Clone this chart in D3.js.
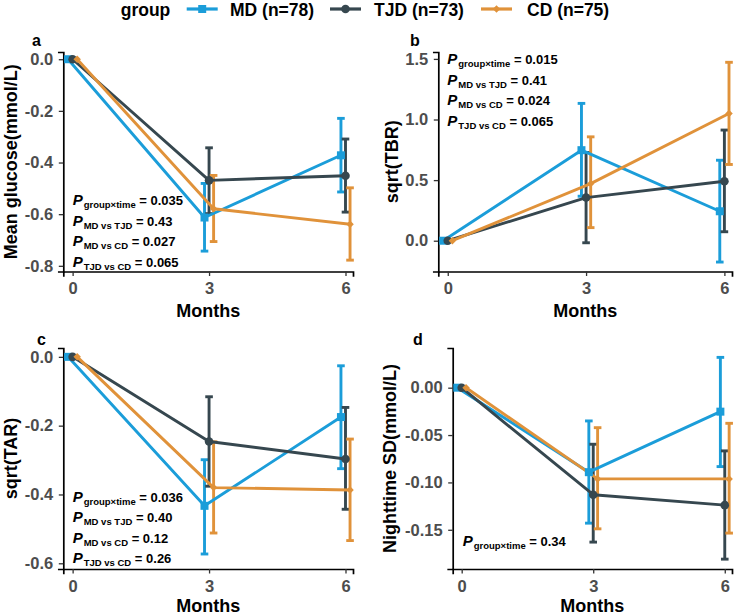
<!DOCTYPE html>
<html><head><meta charset="utf-8">
<script src="https://cdn.jsdelivr.net/npm/d3@7"></script>
<style>
body{margin:0;background:#fff}
text{font-family:"Liberation Sans",Arial,Helvetica,sans-serif;font-weight:bold}
</style>
</head><body>
<svg id="chart" width="735" height="616"></svg>
<script>
// ---------------- data ----------------
const months = [0, 3, 6];
const groups = ["MD (n=78)", "TJD (n=73)", "CD (n=75)"];
const groupColors = ["#1b9dd9", "#36474f", "#e0923a"];
const groupDodge = [-0.1, 0, 0.1];
const groupShapes = ["square", "circle", "diamond"];

// panel a: Mean glucose (mmol/L)
const glucoseMD = [0, -0.613, -0.372], glucoseMDlo = [0, -0.743, -0.514], glucoseMDhi = [0, -0.481, -0.229];
const glucoseTJD = [0, -0.469, -0.451], glucoseTJDlo = [0, -0.598, -0.592], glucoseTJDhi = [0, -0.343, -0.309];
const glucoseCD = [0, -0.579, -0.639], glucoseCDlo = [0, -0.706, -0.778], glucoseCDhi = [0, -0.450, -0.498];
const glucoseTicks = [0, -0.2, -0.4, -0.6, -0.8];
const glucoseP = [["group\u00d7time", "0.035"], ["MD vs TJD", "0.43"], ["MD vs CD", "0.027"], ["TJD vs CD", "0.065"]];

// panel b: sqrt(TBR)
const tbrMD = [0, 0.747, 0.243], tbrMDlo = [0, 0.367, -0.176], tbrMDhi = [0, 1.133, 0.664];
const tbrTJD = [0, 0.356, 0.491], tbrTJDlo = [0, -0.017, 0.074], tbrTJDhi = [0, 0.728, 0.913];
const tbrCD = [0, 0.471, 1.050], tbrCDlo = [0, 0.108, 0.629], tbrCDhi = [0, 0.857, 1.472];
const tbrTicks = [0, 0.5, 1.0, 1.5];
const tbrP = [["group\u00d7time", "0.015"], ["MD vs TJD", "0.41"], ["MD vs CD", "0.024"], ["TJD vs CD", "0.065"]];

// panel c: sqrt(TAR)
const tarMD = [0, -0.433, -0.175], tarMDlo = [0, -0.573, -0.325], tarMDhi = [0, -0.299, -0.026];
const tarTJD = [0, -0.246, -0.297], tarTJDlo = [0, -0.376, -0.443], tarTJDhi = [0, -0.116, -0.147];
const tarCD = [0, -0.380, -0.387], tarCDlo = [0, -0.512, -0.534], tarCDhi = [0, -0.247, -0.239];
const tarTicks = [0, -0.2, -0.4, -0.6];
const tarP = [["group\u00d7time", "0.036"], ["MD vs TJD", "0.40"], ["MD vs CD", "0.12"], ["TJD vs CD", "0.26"]];

// panel d: Nighttime SD (mmol/L)
const nsdMD = [0, -0.0892, -0.0253], nsdMDlo = [0, -0.143, -0.0833], nsdMDhi = [0, -0.0351, 0.032];
const nsdTJD = [0, -0.113, -0.124], nsdTJDlo = [0, -0.163, -0.181], nsdTJDhi = [0, -0.0597, -0.0667];
const nsdCD = [0, -0.0963, -0.0963], nsdCDlo = [0, -0.149, -0.1535], nsdCDhi = [0, -0.0422, -0.0376];
const nsdTicks = [0, -0.05, -0.10, -0.15];
const nsdP = [["group\u00d7time", "0.34"]];

// ---------------- layout ----------------
const xDomain = [-0.205, 6.165];
const panels = [
  {tag: "a", tagX: 32, tagY: 46, left: 63.3, right: 353, top: 52, bottom: 271.5, yDomain: [-0.822, 0.028],
   ticks: glucoseTicks, fmt: ".1f", title: "Mean glucose(mmol/L)", titleX: 11, monthsY: 316.5,
   series: [[glucoseMD, glucoseMDlo, glucoseMDhi], [glucoseTJD, glucoseTJDlo, glucoseTJDhi], [glucoseCD, glucoseCDlo, glucoseCDhi]],
   pvals: glucoseP, pX: 72.7, pY: 205},
  {tag: "b", tagX: 410, tagY: 46, left: 438.3, right: 732, top: 52, bottom: 271.5, yDomain: [-0.254, 1.557],
   ticks: tbrTicks, fmt: ".1f", title: "sqrt(TBR)", titleX: 392, monthsY: 316.5,
   series: [[tbrMD, tbrMDlo, tbrMDhi], [tbrTJD, tbrTJDlo, tbrTJDhi], [tbrCD, tbrCDlo, tbrCDhi]],
   pvals: tbrP, pX: 447.3, pY: 64},
  {tag: "c", tagX: 37, tagY: 345, left: 63.3, right: 353, top: 348, bottom: 569, yDomain: [-0.6166, 0.0257],
   ticks: tarTicks, fmt: ".1f", title: "sqrt(TAR)", titleX: 11, monthsY: 611.5,
   series: [[tarMD, tarMDlo, tarMDhi], [tarTJD, tarTJDlo, tarTJDhi], [tarCD, tarCDlo, tarCDhi]],
   pvals: tarP, pX: 72.7, pY: 501.7},
  {tag: "d", tagX: 413, tagY: 345, left: 452.7, right: 732, top: 348, bottom: 569, yDomain: [-0.1914, 0.0419],
   ticks: nsdTicks, fmt: ".2f", title: "Nighttime SD(mmol/L)", titleX: 390, monthsY: 611.5,
   series: [[nsdMD, nsdMDlo, nsdMDhi], [nsdTJD, nsdTJDlo, nsdTJDhi], [nsdCD, nsdCDlo, nsdCDhi]],
   pvals: nsdP, pX: 462.7, pY: 545.7}
];

const svg = d3.select("#chart");
const LW = 2.9;

function drawShape(sel, shape, cx, cy, color) {
  if (shape === "square") {
    sel.append("path").attr("d", d3.symbol(d3.symbolSquare, 64)()).attr("transform", `translate(${cx},${cy})`).attr("fill", color);
  } else if (shape === "circle") {
    sel.append("circle").attr("cx", cx).attr("cy", cy).attr("r", 4.3).attr("fill", color);
  } else {
    sel.append("path").attr("d", d3.symbol(d3.symbolSquare, 28)()).attr("transform", `translate(${cx},${cy}) rotate(45)`).attr("fill", color);
  }
}

panels.forEach(p => {
  const x = d3.scaleLinear().domain(xDomain).range([p.left, p.right]);
  const y = d3.scaleLinear().domain(p.yDomain).range([p.bottom, p.top]);
  const g = svg.append("g");

  // axes
  const xa = g.append("g").attr("transform", `translate(0,${p.bottom})`)
    .call(d3.axisBottom(x).tickValues(months).tickFormat(d3.format("d")).tickSizeOuter(0).tickSize(4.5).tickPadding(6.5));
  const ya = g.append("g").attr("transform", `translate(${p.left},0)`)
    .call(d3.axisLeft(y).tickValues(p.ticks).tickFormat(d => d3.format(p.fmt)(d).replace("\u2212", "-")).tickSizeOuter(0).tickSize(4.5).tickPadding(5.5));
  [xa, ya].forEach(a => {
    a.select(".domain").attr("stroke", "#000").attr("stroke-width", 1.7).attr("stroke-linecap", "square");
    a.selectAll(".tick line").attr("stroke", "#333").attr("stroke-width", 1.3);
    a.selectAll(".tick text").attr("fill", "#4d4d4d").style("font-size", "16.5px").style("font-family", "'Liberation Sans',Arial,sans-serif").style("font-weight", "bold");
  });

  // titles
  g.append("text").attr("x", (p.left + p.right) / 2).attr("y", p.monthsY)
    .attr("text-anchor", "middle").style("font-size", "18px").attr("fill", "#000").text("Months");
  g.append("text").attr("transform", `translate(${p.titleX},${(p.top + p.bottom) / 2}) rotate(-90)`)
    .attr("text-anchor", "middle").attr("dominant-baseline", "central").style("font-size", "18px").attr("fill", "#000").text(p.title);
  g.append("text").attr("x", p.tagX).attr("y", p.tagY).style("font-size", "16px").attr("fill", "#000").text(p.tag);

  // error bars
  p.series.forEach((s, gi) => {
    const [m, lo, hi] = s;
    months.forEach((mo, i) => {
      if (lo[i] === hi[i]) return;
      const cx = x(mo + groupDodge[gi]);
      const eg = g.append("g").attr("stroke", groupColors[gi]).attr("stroke-width", LW);
      eg.append("line").attr("x1", cx).attr("x2", cx).attr("y1", y(lo[i])).attr("y2", y(hi[i]));
      eg.append("line").attr("x1", cx - 3.8).attr("x2", cx + 3.8).attr("y1", y(lo[i])).attr("y2", y(lo[i]));
      eg.append("line").attr("x1", cx - 3.8).attr("x2", cx + 3.8).attr("y1", y(hi[i])).attr("y2", y(hi[i]));
    });
  });
  // lines
  p.series.forEach((s, gi) => {
    const line = d3.line().x((d, i) => x(months[i] + groupDodge[gi])).y(d => y(d));
    g.append("path").attr("d", line(s[0])).attr("fill", "none").attr("stroke", groupColors[gi]).attr("stroke-width", LW).attr("stroke-linejoin", "round");
  });
  // points
  p.series.forEach((s, gi) => {
    s[0].forEach((v, i) => drawShape(g, groupShapes[gi], x(months[i] + groupDodge[gi]), y(v), groupColors[gi]));
  });

  // p-value annotations
  p.pvals.forEach((pv, k) => {
    const t = g.append("text").attr("x", p.pX).attr("y", p.pY + k * 20.5).attr("fill", "#000").style("white-space", "pre");
    t.append("tspan").text("P").style("font-style", "italic").style("font-size", "15px");
    t.append("tspan").text(pv[0]).style("font-size", "9.5px").attr("dy", 3).attr("dx", 1);
    t.append("tspan").text(" = " + pv[1]).style("font-size", "13px").attr("dy", -3);
  });
});

// legend
const legendY = 9;
svg.append("text").attr("x", 120.7).attr("y", 15.5).style("font-size", "17.5px").attr("fill", "#000").text("group");
const keyX = [186.7, 330, 481];
const textX = [230, 374, 527];
groups.forEach((gname, gi) => {
  const lg = svg.append("g");
  lg.append("line").attr("x1", keyX[gi]).attr("x2", keyX[gi] + 31).attr("y1", legendY).attr("y2", legendY)
    .attr("stroke", groupColors[gi]).attr("stroke-width", 3.2);
  drawShape(lg, groupShapes[gi], keyX[gi] + 15.5, legendY, groupColors[gi]);
  lg.append("text").attr("x", textX[gi]).attr("y", 15.5).style("font-size", "17.5px").attr("fill", "#000").text(gname);
});
</script>
</body></html>
